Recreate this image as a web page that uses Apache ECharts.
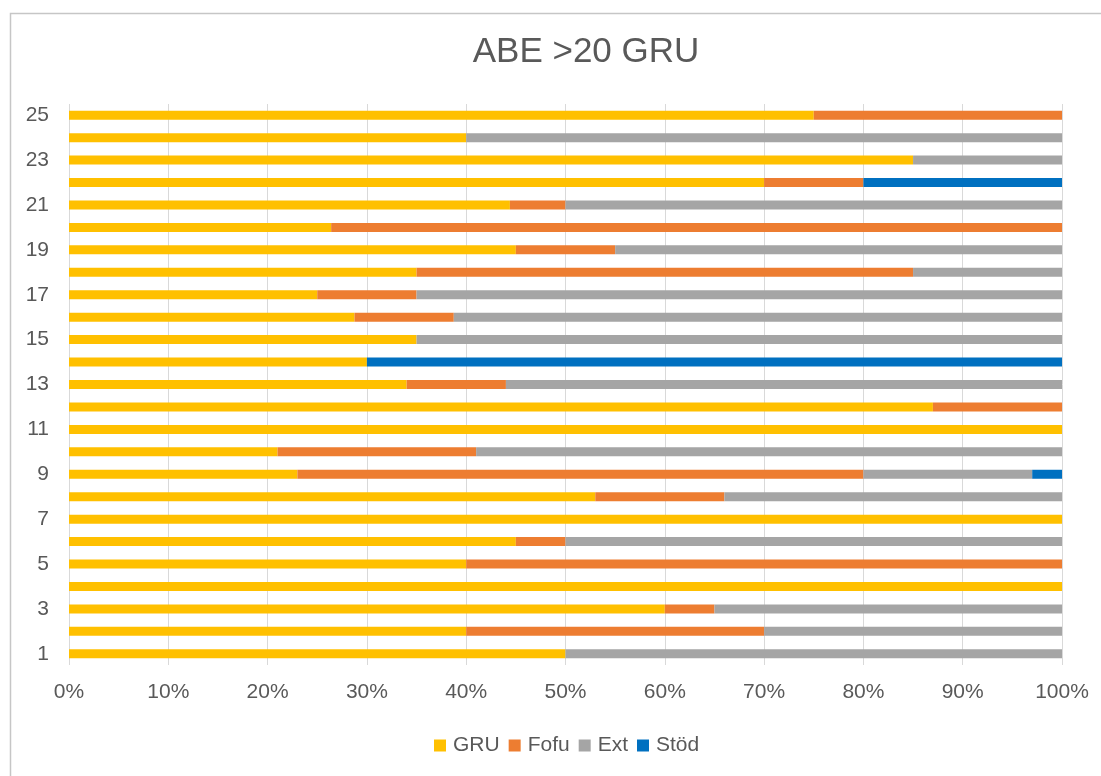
<!DOCTYPE html>
<html>
<head>
<meta charset="utf-8">
<script src="https://cdn.jsdelivr.net/npm/echarts@6/dist/echarts.min.js"></script>
<style>
html,body{margin:0;padding:0;background:#fff;}
#chart{width:1101px;height:776px;}
</style>
</head>
<body>
<div id="chart"></div>
<script>
const categories = ['1','2','3','4','5','6','7','8','9','10','11','12','13','14','15','16','17','18','19','20','21','22','23','24','25'];
const gru  = [50, 40, 60, 100, 40, 45, 100, 53, 23, 21, 100, 87, 34, 30, 35, 28.75, 25, 35, 45, 26.4, 44.4, 70, 85, 40, 75];
const fofu = [0, 30, 5, 0, 60, 5, 0, 13, 57, 20, 0, 13, 10, 0, 0, 10, 10, 50, 10, 73.6, 5.6, 10, 0, 0, 25];
const ext  = [50, 30, 35, 0, 0, 50, 0, 34, 17, 59, 0, 0, 56, 0, 65, 61.25, 65, 15, 45, 0, 50, 0, 15, 60, 0];
const stod = [0, 0, 0, 0, 0, 0, 0, 0, 3, 0, 0, 0, 0, 70, 0, 0, 0, 0, 0, 0, 0, 20, 0, 0, 0];
const seriesNames = ['GRU', 'Fofu', 'Ext', 'Stöd'];
const colors = ['#FFC000', '#ED7D31', '#A5A5A5', '#0070C0'];

const font = 'Liberation Sans, Arial, Helvetica, sans-serif';
const chart = echarts.init(document.getElementById('chart'));
const dataSets = [gru, fofu, ext, stod];

chart.setOption({
  animation: false,
  backgroundColor: '#fff',
  graphic: [{
    type: 'rect', left: 8, top: 11, z: -1,
    shape: {width: 1200, height: 900},
    style: {fill: 'none', stroke: '#c6c6c6', lineWidth: 1.5}
  }],
  title: {
    text: 'ABE >20 GRU',
    left: 581, top: 30, textAlign: 'center',
    textStyle: {fontFamily: font, fontSize: 35, fontWeight: 'normal', color: '#595959'}
  },
  legend: {
    left: 429, top: 730,
    itemWidth: 12, itemHeight: 12, itemGap: 9,
    icon: 'rect',
    data: seriesNames,
    textStyle: {fontFamily: font, fontSize: 21, color: '#595959', padding: [0,0,0,2]}
  },
  grid: {left: 69, right: 39, top: 104, bottom: 111, containLabel: false},
  xAxis: {
    type: 'value', min: 0, max: 100, interval: 10,
    axisLine: {show: false}, axisTick: {show: false},
    splitLine: {lineStyle: {color: '#d9d9d9', width: 1}},
    axisLabel: {formatter: '{value}%', margin: 17, fontFamily: font, fontSize: 21, color: '#595959'}
  },
  yAxis: {
    type: 'category', data: categories,
    axisLine: {show: false}, axisTick: {show: false},
    axisLabel: {interval: 1, margin: 20, fontFamily: font, fontSize: 21, color: '#595959'}
  },
  series: seriesNames.map((name, i) => ({
    name: name, type: 'bar', stack: 'total', barWidth: 9,
    itemStyle: {color: colors[i]},
    data: dataSets[i]
  }))
});
</script>
</body>
</html>
